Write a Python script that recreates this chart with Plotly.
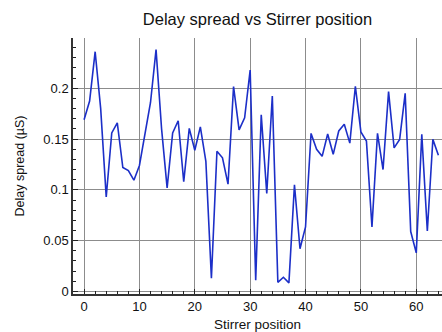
import plotly.graph_objects as go

# Stirrer positions and measured delay spread (microseconds)
stirrer_position = list(range(65))
delay_spread = [
    0.169, 0.1875, 0.236, 0.180, 0.093, 0.156, 0.166, 0.122, 0.119, 0.1095,
    0.124, 0.157, 0.186, 0.238, 0.160, 0.102, 0.156, 0.168, 0.108, 0.1605,
    0.139, 0.162, 0.128, 0.013, 0.138, 0.1316, 0.1056, 0.2016, 0.159, 0.171,
    0.218, 0.011, 0.174, 0.0964, 0.1924, 0.009, 0.014, 0.0085, 0.105, 0.042,
    0.0635, 0.1556, 0.140, 0.133, 0.155, 0.135, 0.158, 0.1645, 0.146, 0.202,
    0.157, 0.148, 0.0635, 0.1556, 0.120, 0.1967, 0.1414, 0.1497, 0.195, 0.059,
    0.038, 0.1546, 0.0595, 0.1497, 0.134,
]

x_ticks = [0, 10, 20, 30, 40, 50, 60]
y_ticks = [0, 0.05, 0.1, 0.15, 0.2]
y_tick_labels = ["0", "0.05", "0.1", "0.15", "0.2"]

FONT = "Liberation Sans, Arial, Helvetica, sans-serif"

fig = go.Figure(
    go.Scatter(
        x=stirrer_position,
        y=delay_spread,
        mode="lines",
        line=dict(color="#1c2fc8", width=1.6),
        showlegend=False,
    )
)

axis_common = dict(
    showgrid=True,
    gridcolor="#8c8c8c",
    gridwidth=1,
    zeroline=False,
    showline=True,
    linecolor="#333333",
    linewidth=1.5,
    ticks="inside",
    ticklen=5,
    tickwidth=1,
    tickcolor="#222222",
    tickfont=dict(family=FONT, size=13, color="#111111"),
    mirror=False,
)

fig.update_xaxes(
    **axis_common,
    range=[-2, 64.65],
    tickvals=x_ticks,
    minor=dict(dtick=2, tick0=0, ticks="inside", ticklen=3, tickcolor="#222222", showgrid=False),
    title=dict(text="Stirrer position", font=dict(family=FONT, size=13.5, color="#111111"), standoff=6),
)

fig.update_yaxes(
    **axis_common,
    range=[-0.0025, 0.2495],
    tickvals=y_ticks,
    ticktext=y_tick_labels,
    minor=dict(dtick=0.01, tick0=0, ticks="inside", ticklen=3, tickcolor="#222222", showgrid=False),
    title=dict(text="Delay spread (µS)", font=dict(family=FONT, size=12.5, color="#111111"), standoff=16),
)

fig.update_layout(
    width=442,
    height=332,
    margin=dict(l=73, r=0, t=38, b=38),
    paper_bgcolor="white",
    plot_bgcolor="white",
    title=dict(
        text="Delay spread vs Stirrer position",
        x=0.5825,
        xanchor="center",
        y=1 - 19 / 332,
        yanchor="middle",
        font=dict(family=FONT, size=16.5, color="#111111"),
    ),
)

fig.write_html("out.html")
